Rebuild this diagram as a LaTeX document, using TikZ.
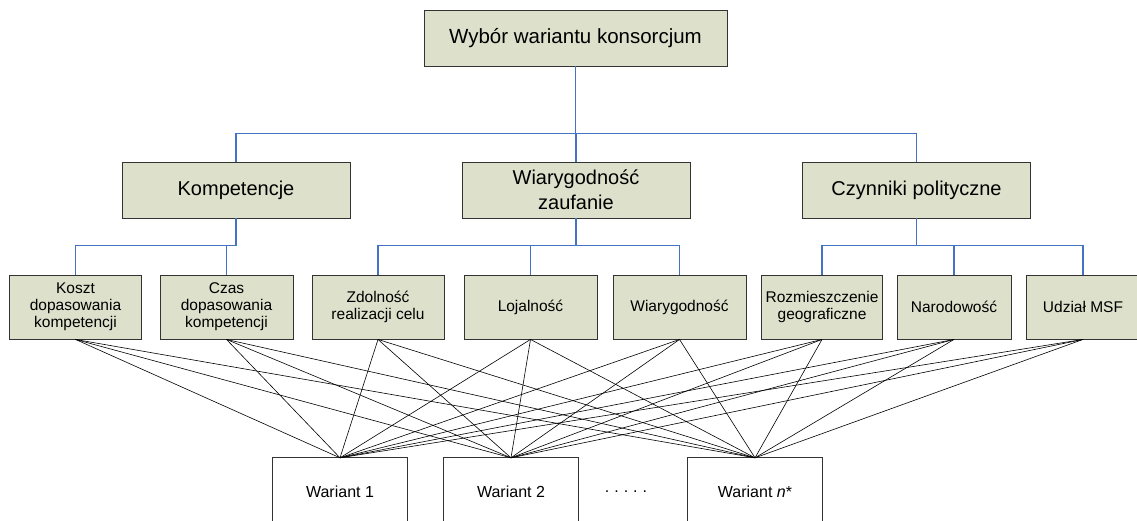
\documentclass[tikz,border=0pt]{standalone}
\usepackage{fontspec}
\setmainfont{Liberation Sans}
\begin{document}
\begin{tikzpicture}[x=1pt,y=-1pt,
  crit/.style={draw=black!80, line width=0.9pt, fill=boxfill, align=center, inner sep=0pt},
  topbox/.style={crit, minimum width=303, minimum height=56, font=\fontsize{20.5}{25}\selectfont},
  midbox/.style={crit, minimum width=228, minimum height=56, font=\fontsize{20}{25}\selectfont},
  leafbox/.style={crit, minimum height=64, font=\fontsize{15.5}{17}\selectfont},
  varbox/.style={minimum width=134, minimum height=68, inner sep=0pt, font=\fontsize{16}{19}\selectfont},
  tree/.style={draw=treeblue, line width=1.8pt},
  link/.style={draw=black, line width=0.6pt}]
\definecolor{boxfill}{RGB}{221,224,203}
\definecolor{treeblue}{RGB}{68,114,196}
\useasboundingbox (0,0) rectangle (1137,520);

% goal
\node[topbox] (goal) at (575.5,38) {Wybór wariantu konsorcjum};

% criteria
\node[midbox] (komp) at (236,190) {Kompetencje};
\node[midbox] (wiar) at (576,190) {Wiarygodność\\zaufanie};
\node[midbox] (pol)  at (916.5,190) {Czynniki polityczne};

% sub-criteria
\node[leafbox, minimum width=132] (k1) at (75.5,307) {Koszt\\dopasowania\\kompetencji};
\node[leafbox, minimum width=133] (k2) at (226.5,307) {Czas\\dopasowania\\kompetencji};
\node[leafbox, minimum width=132] (w1) at (378,307) {Zdolność\\realizacji celu};
\node[leafbox, minimum width=133] (w2) at (530.5,307) {Lojalność};
\node[leafbox, minimum width=133] (w3) at (679.5,307) {Wiarygodność};
\node[leafbox, minimum width=121] (p1) at (822,307) {Rozmieszczenie\\geograficzne};
\node[leafbox, minimum width=114] (p2) at (954,307) {Narodowość};
\node[leafbox, minimum width=114] (p3) at (1083,307) {Udział MSF};

% variants (open at the bottom edge)
\node[varbox] (v1) at (340,492) {Wariant 1};
\node[varbox] (v2) at (511,492) {Wariant 2};
\node[varbox] (vn) at (755,492) {Wariant \textit{n}*};
\node[font=\fontsize{16}{19}\selectfont] (dots) at (626,492) {.\hspace{5pt}.\hspace{5pt}.\hspace{5pt}.\hspace{5pt}.};
\foreach \v in {v1,v2,vn}
  \draw[black!80, line width=0.9pt] (\v.south west) -- (\v.north west) -- (\v.north east) -- (\v.south east);

% hierarchy connectors
\foreach \c in {komp,wiar,pol}
  \draw[tree] (goal.south) -- ++(0,67) -| (\c.north);
\foreach \c in {k1,k2}
  \draw[tree] (komp.south) -- ++(0,27) -| (\c.north);
\foreach \c in {w1,w2,w3}
  \draw[tree] (wiar.south) -- ++(0,27) -| (\c.north);
\foreach \c in {p1,p2,p3}
  \draw[tree] (pol.south) -- ++(0,27) -| (\c.north);

% every sub-criterion linked to every variant
\foreach \s in {k1,k2,w1,w2,w3,p1,p2,p3}
  \foreach \v in {v1,v2,vn}
    \draw[link] (\s.south) -- (\v.north);
\end{tikzpicture}
\end{document}
